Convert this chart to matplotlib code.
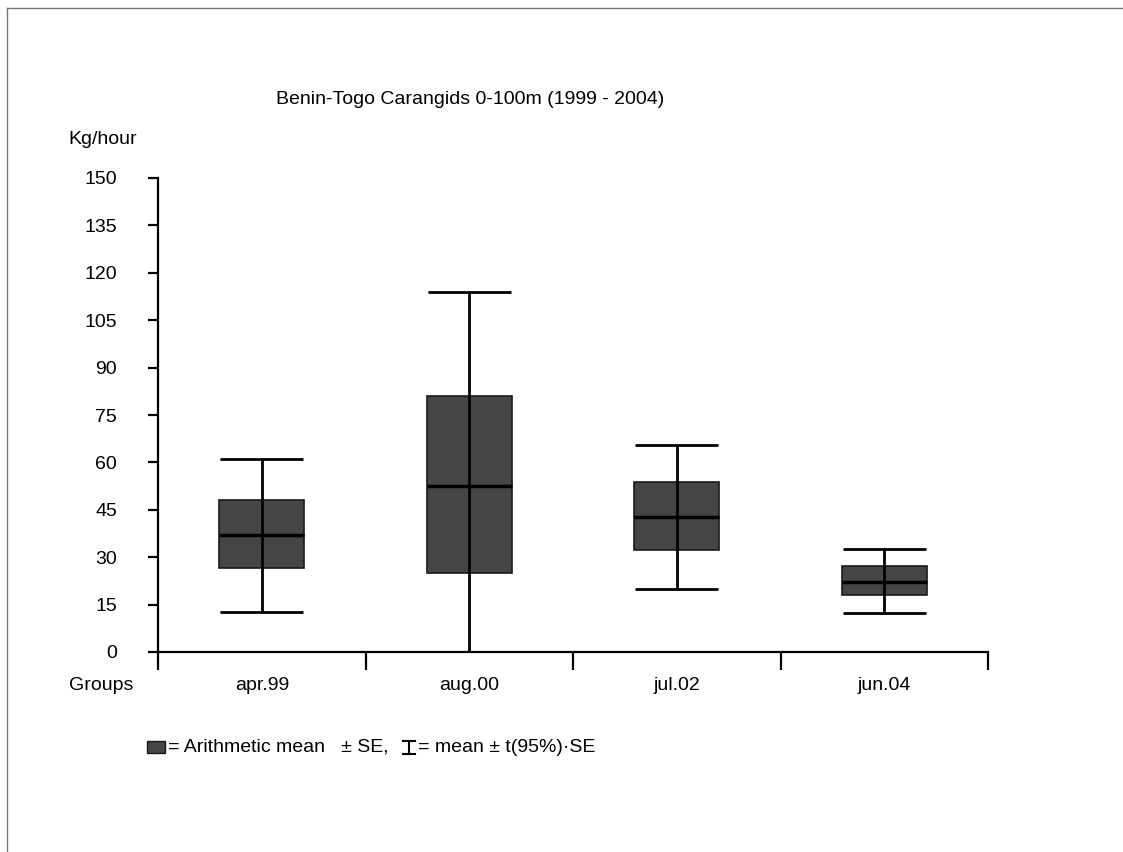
import matplotlib.pyplot as plt
from matplotlib.lines import Line2D
from matplotlib.patches import Rectangle

plt.rcParams['font.family'] = ['Liberation Sans', 'DejaVu Sans']

groups = ['apr.99', 'aug.00', 'jul.02', 'jun.04']
means = [37.0, 52.6, 42.8, 22.2]
se_lo = [26.7, 25.1, 32.3, 18.0]
se_hi = [48.1, 81.1, 53.8, 27.3]
ci_lo = [12.6, -8.7, 19.9, 12.2]
ci_hi = [61.1, 113.9, 65.6, 32.6]
yticks = list(range(0, 151, 15))

W, H = 1123, 852
fig = plt.figure(figsize=(W/100, H/100), dpi=100)
ax = fig.add_axes([158/W, 1-652/H, 830/W, 474/H])

x = [i + 0.5 for i in range(len(groups))]
bw = 0.41
cw = 0.40

# whiskers (mean +- t*SE)
ax.vlines(x, ci_lo, ci_hi, color='black', lw=2, zorder=3)
for xi, lo, hi in zip(x, ci_lo, ci_hi):
    ax.hlines([lo, hi], xi - cw/2, xi + cw/2, color='black', lw=2, zorder=3)

# boxes (mean +- SE)
ax.bar(x, [h - l for l, h in zip(se_lo, se_hi)], bottom=se_lo, width=bw,
       color='#454545', edgecolor='#1a1a1a', lw=1.2, zorder=2)
for xi, m in zip(x, means):
    ax.hlines(m, xi - bw/2, xi + bw/2, color='black', lw=2.5, zorder=4)

ax.set_xlim(0, 4)
ax.set_ylim(0, 150)
ax.spines['top'].set_visible(False)
ax.spines['right'].set_visible(False)
ax.spines['left'].set_linewidth(1.6)
ax.spines['bottom'].set_linewidth(1.6)

ax.set_yticks(yticks)
ax.set_yticklabels([str(v) for v in yticks])
ax.tick_params(axis='y', direction='out', length=7.5, width=1.6, pad=22, labelsize=14)

ax.set_xticks([0, 1, 2, 3, 4])
ax.set_xticklabels([])
ax.tick_params(axis='x', direction='out', length=13, width=1.6)
for xi, g in zip(x, groups):
    ax.text(xi, -0.07, g, transform=ax.get_xaxis_transform(), ha='center', va='center',
            fontsize=14)

fig.text(103/W, 1-140/H, 'Kg/hour', ha='center', va='center', fontsize=14)
fig.text(101/W, 1-686/H, 'Groups', ha='center', va='center', fontsize=14)
fig.text(470/W, 1-100/H, 'Benin-Togo Carangids 0-100m (1999 - 2004)', ha='center',
         va='center', fontsize=14)

# legend line
fig.add_artist(Rectangle((147/W, 1-753/H), 18/W, 12/H, transform=fig.transFigure,
                         facecolor='#454545', edgecolor='#1a1a1a', lw=1))
fig.text(168/W, 1-747/H, '= Arithmetic mean   \u00b1 SE,', ha='left', va='center', fontsize=14)
ix = 408.5
fig.add_artist(Line2D([ix/W, ix/W], [1-741/H, 1-754/H], transform=fig.transFigure, color='black', lw=1.5))
fig.add_artist(Line2D([(ix-6)/W, (ix+6)/W], [1-741/H, 1-741/H], transform=fig.transFigure, color='black', lw=1.5))
fig.add_artist(Line2D([(ix-6)/W, (ix+6)/W], [1-754/H, 1-754/H], transform=fig.transFigure, color='black', lw=1.5))
fig.text(418/W, 1-747/H, '= mean \u00b1 t(95%)\u00b7SE', ha='left', va='center', fontsize=14)

# frame lines at top and left
fig.add_artist(Line2D([7/W, 1], [1-8/H, 1-8/H], transform=fig.transFigure, color='#777777', lw=1))
fig.add_artist(Line2D([7/W, 7/W], [0, 1-8/H], transform=fig.transFigure, color='#777777', lw=1))

plt.savefig('out.png', dpi=100)
